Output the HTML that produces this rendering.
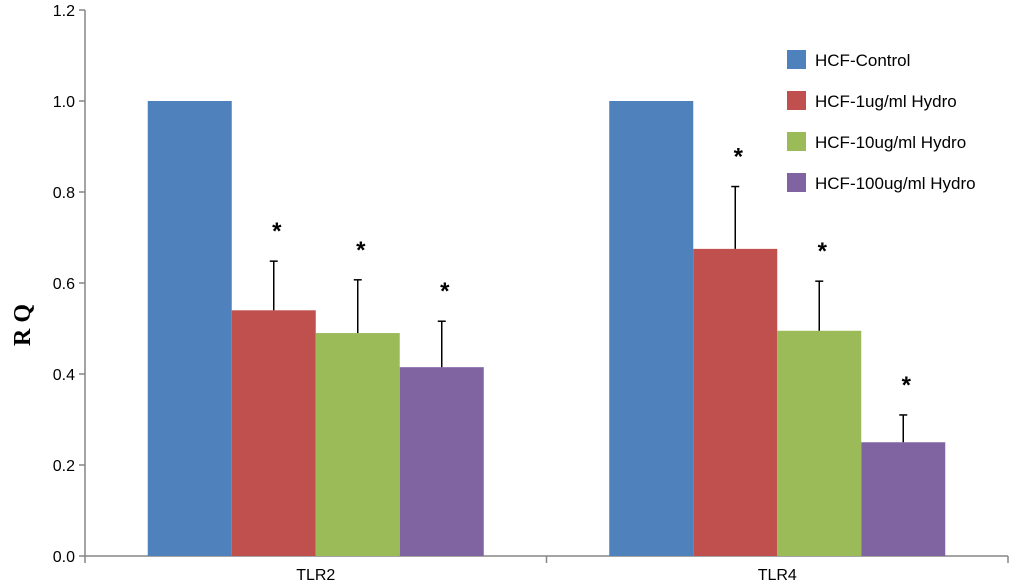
<!DOCTYPE html>
<html><head><meta charset="utf-8"><style>
body{margin:0;background:#fff}
svg{display:block}
text{font-family:"Liberation Sans",sans-serif}
</style></head><body>
<svg id="chart" width="1011" height="586"></svg>
<script>
const categories=["TLR2","TLR4"];
const seriesNames=["HCF-Control","HCF-1ug/ml Hydro","HCF-10ug/ml Hydro","HCF-100ug/ml Hydro"];
const seriesColors=["#4f81bd","#c0504d","#9bbb59","#8064a2"];
const values=[[1.0,0.54,0.49,0.415],[1.0,0.675,0.495,0.25]];
const errTops=[[null,0.648,0.607,0.516],[null,0.812,0.604,0.31]];
const stars=[[false,true,true,true],[false,true,true,true]];
const yTicks=[0,0.2,0.4,0.6,0.8,1.0,1.2];
const yTickLabels=["0.0","0.2","0.4","0.6","0.8","1.0","1.2"];

const NS="http://www.w3.org/2000/svg";
const svg=document.getElementById('chart');
const x0=85,x1=1008,yBase=556,yTop=10,yMax=1.2;
const y=v=>yBase-(v/yMax)*(yBase-yTop);
const catW=(x1-x0)/categories.length;
const barW=84;
function mk(tag,attrs){const e=document.createElementNS(NS,tag);for(const k in attrs)e.setAttribute(k,attrs[k]);svg.appendChild(e);return e;}

let ax=mk('line',{x1:x0,y1:yTop,x2:x0,y2:yBase,stroke:'#868686','stroke-width':1.5});


ax=mk('line',{x1:x0,y1:yBase,x2:x1,y2:yBase,stroke:'#868686','stroke-width':1.5});


yTicks.forEach((t,i)=>{
  const tk=mk('line',{x1:x0-6,y1:y(t),x2:x0,y2:y(t),stroke:'#868686','stroke-width':1.5});
  
  
  const tl=mk('text',{x:x0-10,y:y(t)+6,'text-anchor':'end','font-size':16,fill:'#000'});
  tl.textContent=yTickLabels[i];
  
  
});
for(let i=0;i<=categories.length;i++){
  const tk=mk('line',{x1:x0+i*catW,y1:yBase,x2:x0+i*catW,y2:yBase+7,stroke:'#868686','stroke-width':1.5});
  
  
}
categories.forEach((c,ci)=>{
  const cx=x0+catW*(ci+0.5);
  const lbl=mk('text',{x:cx,y:yBase+24,'text-anchor':'middle','font-size':16,fill:'#000'});
  lbl.textContent=c;
  
  
  const start=cx-barW*seriesNames.length/2;
  values[ci].forEach((v,si)=>{
    const bx=start+si*barW;
    const r=mk('rect',{x:bx,y:y(v),width:barW,height:yBase-y(v),fill:seriesColors[si]});
    
    
    const mx=bx+barW/2;
    if(errTops[ci][si]!=null){
      const el=mk('line',{x1:mx,y1:y(v),x2:mx,y2:y(errTops[ci][si]),stroke:'#000','stroke-width':1.5});
      
      
      const cap=mk('line',{x1:mx-4,y1:y(errTops[ci][si]),x2:mx+4,y2:y(errTops[ci][si]),stroke:'#000','stroke-width':1.5});
      
      
    }
    if(stars[ci][si]){
      const top=errTops[ci][si]!=null?errTops[ci][si]:v;
      const s=mk('text',{x:mx+3,y:y(top)-22,'text-anchor':'middle','font-size':24,'font-weight':'bold',fill:'#000'});
      s.textContent='*';
      
      
    }
  });
});
seriesNames.forEach((n,i)=>{
  const ly=50+i*41;
  const r=mk('rect',{x:787,y:ly,width:19,height:19,fill:seriesColors[i]});
  
  
  const t=mk('text',{x:815,y:ly+16,'font-size':17,fill:'#000'});
  t.textContent=n;
  
  
});
const yl=mk('text',{x:0,y:0,transform:'translate(30,325) rotate(-90)','text-anchor':'middle','font-size':24,'font-weight':'bold',fill:'#000',style:'font-family:"Liberation Serif",serif'});
yl.textContent='R Q';


</script>
</body></html>
